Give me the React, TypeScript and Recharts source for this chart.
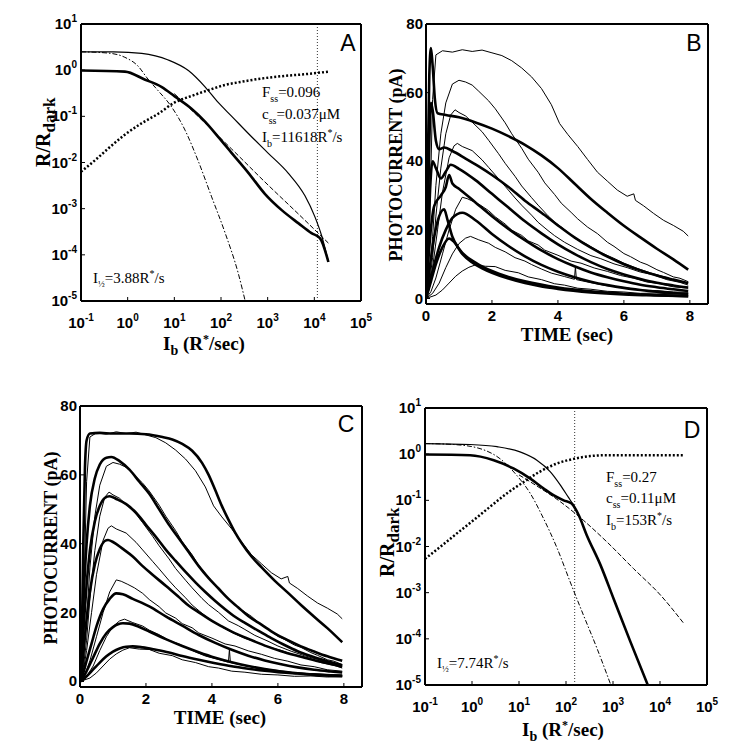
import { LineChart, Line, XAxis, YAxis, ReferenceLine } from 'recharts';

type Pt = [number, number];

// ---------- panels A & D: R/Rdark vs background intensity (log-log)
const IB_TICKS = [0.1, 1, 10, 100, 1000, 10000, 100000];
const RATIO_TICKS = [0.00001, 0.0001, 0.001, 0.01, 0.1, 1, 10];

const A_IB = 11618;
const aThin: Pt[] = [[0.1, 2.5], [0.5, 2.48], [2, 2.3], [7.4, 1.66], [20, 0.98], [46, 0.43], [87, 0.2], [170, 0.1], [390, 0.042], [1020, 0.016], [2750, 0.0059], [6300, 0.0019], [10200, 6.8e-4], [14500, 2.5e-4], [20000, 7e-5]];
const aThick: Pt[] = [[0.1, 0.98], [0.87, 0.93], [2.3, 0.63], [5.4, 0.43], [10.2, 0.27], [23, 0.148], [46, 0.076], [87, 0.036], [170, 0.016], [390, 0.0059], [870, 0.0021], [2000, 9.3e-4], [4600, 4.8e-4], [8700, 2.95e-4], [13200, 2.3e-4], [20000, 7e-5]];
const aSteep: Pt[] = [[0.1, 2.5], [0.39, 2.34], [0.87, 1.9], [1.7, 1.2], [2.6, 0.68], [4.6, 0.35], [8.1, 0.178], [17, 0.05], [32, 0.0112], [63, 0.0018], [123, 2.95e-4], [234, 4e-5], [330, 1e-5]];
const aShallow: Pt[] = [[10, 0.31], [39, 0.083], [170, 0.0195], [870, 0.0038], [4600, 7.6e-4], [20000, 1.8e-4]];
const aFrac: Pt[] = [[0.1, 0.0063], [0.2, 0.0112], [0.39, 0.0204], [0.87, 0.04], [2, 0.071], [4.6, 0.115], [10.2, 0.2], [23, 0.275], [54, 0.37], [123, 0.48], [275, 0.56], [740, 0.66], [2000, 0.74], [7400, 0.83], [20000, 0.93]];

const D_IB = 153;
const dThin: Pt[] = [[0.1, 1.7], [0.91, 1.62], [3.4, 1.45], [10.5, 1.12], [24, 0.74], [46, 0.42], [76, 0.214], [112, 0.117], [145, 0.078], [186, 0.048]];
const dThick: Pt[] = [[0.1, 0.98], [0.91, 0.95], [2.9, 0.74], [7.6, 0.49], [17.4, 0.295], [33, 0.182], [54, 0.129], [89, 0.1], [132, 0.085], [186, 0.048], [275, 0.0178], [540, 0.004], [1020, 7.6e-4], [2340, 8.7e-5], [5500, 1e-5]];
const dSteep: Pt[] = [[0.1, 1.7], [0.4, 1.62], [1.48, 1.32], [4, 0.79], [8.9, 0.35], [17.4, 0.141], [33, 0.041], [65, 0.0091], [123, 0.0017], [234, 3.3e-4], [457, 6.2e-5], [900, 1e-5]];
const dShallow: Pt[] = [[10, 0.355], [20, 0.23], [76, 0.093], [234, 0.037], [740, 0.0126], [2750, 0.0033], [10200, 8.9e-4], [31600, 2.2e-4]];
const dFrac: Pt[] = [[0.1, 0.0054], [0.21, 0.0098], [0.47, 0.019], [1.07, 0.037], [2.4, 0.072], [5.5, 0.141], [12.6, 0.25], [28, 0.42], [65, 0.63], [145, 0.79], [330, 0.91], [740, 0.95], [31600, 0.95]];

// ---------- panels B & C: photocurrent (pA) vs time (sec)
const TIME_TICKS = [0, 2, 4, 6, 8];
const PA_TICKS = [0, 20, 40, 60, 80];

// recorded responses (same in B and C)
const rec1: Pt[] = [[0, 0], [0.1, 18], [0.2, 58], [0.3, 71], [0.5, 72.2], [0.8, 71.8], [1.1, 72.5], [1.4, 72], [1.7, 72.4], [2, 71.6], [2.3, 70.8], [2.6, 69.3], [2.9, 67.2], [3.2, 64.6], [3.5, 61.2], [3.8, 56.5], [4.05, 51], [4.3, 47.8], [4.6, 44.3], [4.9, 40.5], [5.2, 36.8], [5.5, 34.2], [5.8, 31.6], [6.1, 29.8], [6.3, 30.5], [6.35, 28.6], [6.6, 27], [6.9, 24.8], [7.2, 22.8], [7.5, 21.3], [7.8, 19.6], [7.95, 18.2]];
const rec2: Pt[] = [[0, 0], [0.1, 6], [0.2, 18], [0.3, 33], [0.45, 48], [0.6, 57], [0.8, 62.5], [1, 63.6], [1.2, 63.1], [1.4, 62.2], [1.6, 60.4], [1.9, 57.6], [2.1, 55.3], [2.4, 51.2], [2.6, 48], [2.9, 43.8], [3.1, 40.6], [3.4, 36.8], [3.6, 33.7], [3.9, 30.3], [4.1, 27.8], [4.4, 25.1], [4.6, 23.2], [4.9, 20.8], [5.2, 18.9], [5.5, 16.4], [5.7, 15.2], [6, 13.1], [6.2, 12.2], [6.5, 10.6], [6.7, 9.9], [7, 8.4], [7.2, 7.6], [7.5, 6.3], [7.7, 5.9], [7.95, 4.9]];
const rec3: Pt[] = [[0, 0], [0.1, 4], [0.2, 12], [0.3, 24], [0.45, 38], [0.6, 48], [0.75, 53.5], [0.88, 55], [1, 54.2], [1.2, 53.2], [1.4, 51.4], [1.7, 48.6], [1.9, 46.1], [2.2, 42.2], [2.4, 39.4], [2.7, 35.6], [2.9, 32.8], [3.2, 29.4], [3.4, 27.2], [3.7, 24.1], [3.9, 22.3], [4.2, 20.1], [4.5, 17.6], [4.8, 16.2], [5, 15.1], [5.3, 13.4], [5.7, 11.7], [6, 10.3], [6.4, 8.8], [6.8, 7.5], [7.2, 6.4], [7.6, 5.2], [7.95, 4.5]];
const rec4: Pt[] = [[0, 0], [0.1, 3], [0.2, 9], [0.35, 20], [0.5, 31], [0.7, 41], [0.85, 44.5], [0.95, 45.2], [1.1, 44.3], [1.4, 43.1], [1.7, 40.4], [1.9, 38.2], [2.2, 34.9], [2.4, 32.7], [2.7, 29.3], [2.9, 27.2], [3.2, 24.3], [3.4, 22.2], [3.7, 19.8], [3.9, 18.3], [4.2, 16.4], [4.6, 14.3], [5, 12.5], [5.3, 11.6], [5.7, 10.1], [6.1, 9], [6.5, 7.7], [6.9, 6.9], [7.3, 5.5], [7.7, 4.7], [7.95, 3.9]];
const rec5: Pt[] = [[0, 0], [0.15, 2], [0.3, 6], [0.5, 13], [0.7, 20], [0.9, 26], [1.1, 29.5], [1.25, 29.1], [1.45, 28.2], [1.65, 27.2], [1.9, 25.6], [2.1, 23.8], [2.4, 21.7], [2.6, 19.9], [2.9, 18.4], [3.1, 16.8], [3.4, 15.6], [3.6, 14.1], [4, 12.6], [4.4, 10.9], [4.7, 10.3], [5.1, 8.9], [5.5, 7.9], [5.9, 6.7], [6.3, 5.9], [6.7, 4.8], [7.1, 4.3], [7.5, 3.4], [7.95, 3]];
const rec6: Pt[] = [[0, 0], [0.2, 1.5], [0.4, 4.5], [0.6, 9], [0.8, 13], [1, 16], [1.2, 17.6], [1.35, 18.1], [1.6, 17.1], [1.9, 16.1], [2.1, 14.9], [2.4, 13.6], [2.7, 11.9], [3, 10.9], [3.2, 9.9], [3.5, 8.6], [3.8, 7.4], [4.2, 6.4], [4.5, 5.6], [4.53, 9.3], [4.56, 5.5], [5, 4.6], [5.5, 3.7], [6, 3.2], [6.5, 2.5], [7, 2.3], [7.5, 1.9], [7.95, 1.8]];
const rec7: Pt[] = [[0, 0], [0.3, 1], [0.5, 2.5], [0.7, 4.5], [0.9, 6.5], [1.1, 8], [1.3, 9.1], [1.5, 9.8], [1.8, 9.4], [2.1, 9.3], [2.4, 8.2], [2.8, 7.5], [3.1, 6.3], [3.5, 5.5], [3.9, 4.3], [4.2, 3.9], [4.6, 3], [5, 2.7], [5.5, 2.1], [6, 1.9], [6.5, 1.5], [7, 1.6], [7.5, 1.3], [7.95, 1.4]];

// model fits, panel B
const fitB1: Pt[] = [[0, 0], [0.05, 35], [0.1, 65], [0.15, 73], [0.2, 68], [0.27, 58], [0.35, 54], [0.6, 53.5], [1, 52.8], [1.5, 51.3], [2, 49.5], [2.5, 47.3], [3, 44.8], [3.5, 41.7], [4, 38], [4.5, 33.5], [5, 29], [5.5, 25], [6, 21.2], [6.5, 17.8], [7, 14.5], [7.5, 11.4], [7.95, 8.4]];
const fitB2: Pt[] = [[0, 0], [0.05, 20], [0.1, 45], [0.15, 57], [0.2, 55], [0.3, 46], [0.4, 43.5], [0.55, 44], [0.8, 43], [1.2, 40.8], [1.6, 38.5], [2, 36], [2.5, 32.5], [3, 28.5], [3.5, 25], [4, 21.3], [4.5, 17.8], [5, 14.8], [5.5, 12.2], [6, 10], [6.5, 8.2], [7, 6.7], [7.5, 5.5], [7.95, 4.5]];
const fitB3: Pt[] = [[0, 0], [0.05, 10], [0.1, 26], [0.2, 40], [0.3, 38], [0.45, 35], [0.6, 37], [0.75, 39], [1, 37.8], [1.5, 34.5], [2, 30.5], [2.5, 26.5], [3, 22.5], [3.5, 19], [4, 15.8], [4.5, 13], [5, 10.6], [5.5, 8.6], [6, 7], [6.5, 5.7], [7, 4.6], [7.5, 3.8], [7.95, 3.2]];
const fitB4: Pt[] = [[0, 0], [0.1, 15], [0.25, 27], [0.45, 30], [0.6, 32.5], [0.7, 36], [0.8, 33.5], [1, 32], [1.5, 28], [2, 24], [2.5, 20.3], [3, 17], [3.5, 14], [4, 11.5], [4.5, 9.4], [5, 7.6], [5.5, 6.2], [6, 5], [6.5, 4], [7, 3.3], [7.5, 2.7], [7.95, 2.2]];
const fitB5: Pt[] = [[0, 0], [0.2, 8], [0.4, 15], [0.6, 20], [0.8, 23.5], [1.1, 25], [1.5, 22.8], [2, 18.8], [2.5, 15.3], [3, 12.3], [3.5, 9.8], [4, 7.8], [4.5, 6.2], [5, 4.9], [5.5, 3.9], [6, 3.1], [6.5, 2.5], [7, 2], [7.5, 1.6], [7.95, 1.3]];
const fitB6: Pt[] = [[0, 0], [0.1, 8], [0.25, 18], [0.4, 24], [0.55, 26], [0.65, 23], [0.8, 18], [1, 14.5], [1.5, 10.5], [2, 8], [2.5, 6.3], [3, 5], [4, 3.2], [5, 2.1], [6, 1.4], [7, 1], [7.95, 0.7]];
const fitB7: Pt[] = [[0, 0], [0.15, 5], [0.3, 10], [0.5, 15], [0.7, 17.5], [0.85, 16.5], [1.1, 13], [1.4, 10.5], [1.7, 8.8], [2, 7.5], [2.5, 5.8], [3, 4.5], [3.5, 3.5], [4, 2.8], [5, 1.8], [6, 1.2], [7, 0.9], [7.95, 0.7]];

// model fits, panel C
const fitC1: Pt[] = [[0, 0], [0.05, 10], [0.1, 40], [0.15, 62], [0.2, 70], [0.3, 72], [0.6, 72.2], [1, 72], [1.5, 72], [2, 71.8], [2.5, 71], [2.8, 70.3], [3.1, 69], [3.4, 67], [3.7, 63.5], [3.9, 60], [4.1, 55.6], [4.3, 51], [4.5, 47], [4.7, 43.3], [4.9, 40.2], [5.2, 36.3], [5.5, 33.2], [5.9, 29.3], [6.3, 25.8], [6.7, 22.2], [7.1, 18.8], [7.5, 15.5], [7.95, 11.4]];
const fitC2: Pt[] = [[0, 0], [0.05, 8], [0.1, 22], [0.2, 40], [0.3, 51], [0.45, 59], [0.6, 63], [0.8, 65], [0.95, 65.2], [1.2, 64], [1.5, 61.5], [1.8, 58], [2.1, 54.5], [2.4, 50], [2.7, 45.5], [3, 41.5], [3.3, 37.5], [3.6, 33.5], [3.9, 30], [4.2, 27], [4.5, 24], [4.8, 21.5], [5.1, 19], [5.5, 16.5], [5.9, 14], [6.3, 12], [6.7, 10.2], [7.1, 8.7], [7.5, 7.3], [7.95, 6]];
const fitC3: Pt[] = [[0, 0], [0.05, 5], [0.1, 14], [0.2, 28], [0.3, 38], [0.45, 46.5], [0.6, 51], [0.75, 53.3], [0.9, 53.8], [1.1, 53], [1.4, 51.5], [1.7, 49], [2, 45.5], [2.3, 42], [2.6, 38.3], [2.9, 35], [3.2, 31.8], [3.5, 28.8], [3.8, 26], [4.1, 23.4], [4.4, 21], [4.7, 18.8], [5, 17], [5.4, 14.8], [5.8, 12.6], [6.2, 10.6], [6.6, 8.8], [7, 7.4], [7.5, 5.9], [7.95, 4.7]];
const fitC4: Pt[] = [[0, 0], [0.05, 3], [0.1, 8], [0.2, 18], [0.3, 26], [0.45, 34], [0.6, 38.5], [0.75, 40.8], [0.85, 41.1], [1, 40.5], [1.3, 38.5], [1.6, 36.3], [1.9, 33.5], [2.2, 31], [2.6, 27.8], [3, 24.5], [3.3, 22], [3.65, 19.8], [4, 17.6], [4.3, 16], [4.66, 14.2], [5, 12.8], [5.3, 11.6], [5.67, 10.2], [6.1, 8.8], [6.5, 7.7], [6.9, 6.7], [7.4, 5.5], [7.95, 4.3]];
const fitC5: Pt[] = [[0, 0], [0.1, 2.5], [0.2, 6], [0.35, 11], [0.5, 16], [0.7, 21], [0.9, 24], [1.1, 25.6], [1.3, 25.3], [1.6, 24], [2.1, 21.8], [2.6, 18.9], [3.1, 16.2], [3.6, 13.5], [4.1, 11.2], [4.6, 9.2], [5.1, 7.5], [5.6, 6.1], [6.1, 5], [6.6, 4.1], [7.1, 3.4], [7.6, 2.9], [7.95, 2.6]];
const fitC6: Pt[] = [[0, 0], [0.1, 1.2], [0.2, 3], [0.4, 7], [0.6, 11], [0.8, 14], [1, 15.8], [1.3, 16.9], [1.5, 16.8], [1.8, 15.8], [2.1, 14.5], [2.6, 12.3], [3.1, 10.3], [3.6, 8.5], [4.1, 6.9], [4.6, 5.6], [5.1, 4.5], [5.6, 3.6], [6.1, 2.9], [6.6, 2.4], [7.1, 2], [7.6, 1.7], [7.95, 1.5]];
const fitC7: Pt[] = [[0, 0], [0.1, 0.6], [0.2, 1.5], [0.4, 3.5], [0.6, 5.5], [0.8, 7.3], [1, 8.7], [1.2, 9.6], [1.4, 10.1], [1.6, 10.2], [1.9, 9.9], [2.3, 9.2], [2.7, 8.4], [3.1, 7.4], [3.6, 6.3], [4.1, 5.3], [4.6, 4.4], [5.1, 3.7], [5.6, 3.1], [6.1, 2.6], [6.6, 2.3], [7.1, 2], [7.6, 1.8], [7.95, 1.7]];

const RECORDED = [rec1, rec2, rec3, rec4, rec5, rec6, rec7];
const FITS_B = [fitB1, fitB2, fitB3, fitB4, fitB5, fitB6, fitB7];
const FITS_C = [fitC1, fitC2, fitC3, fitC4, fitC5, fitC6, fitC7];

const SANS = '"Liberation Sans", Arial, Helvetica, sans-serif';
const SERIF = '"Liberation Serif", "Times New Roman", serif';

interface Box { left: number; top: number; width: number; height: number }
interface Plot { l: number; t: number; r: number; b: number }
interface Curve { pts: Pt[]; w: number; dash?: string; smooth?: boolean }

const rows = (pts: Pt[]) => pts.map(([x, y]) => ({ x, y }));
const expOf = (v: number) => Math.round(Math.log10(v));

interface PanelProps {
  box: Box;
  plot: Plot;
  log: boolean;
  xDomain: [number, number];
  yDomain: [number, number];
  xTicks: number[];
  yTicks: number[];
  curves: Curve[];
  mark?: number;
}

function Panel({ box, plot, log, xDomain, yDomain, xTicks, yTicks, curves, mark }: PanelProps) {
  const ox = box.left;
  const oy = box.top;
  const margin = {
    left: plot.l - ox - 1,
    top: plot.t - oy - 1,
    right: ox + box.width - plot.r - 1,
    bottom: oy + box.height - plot.b - 1,
  };
  const scale = log ? 'log' : 'linear';
  const frame = { stroke: '#000', strokeWidth: 2 };
  const tickFont = { fontFamily: SANS, fontWeight: 700, fontSize: 15, fill: '#000' };

  const bottomTick = (p: any) => {
    const v = p.payload.value;
    if (log) {
      return (
        <text x={p.x} y={plot.b - oy + 27} textAnchor="middle" style={tickFont}>
          10<tspan dy={-7} fontSize={10}>{expOf(v)}</tspan>
        </text>
      );
    }
    return (
      <text x={p.x} y={plot.b - oy + 17} textAnchor="middle" style={tickFont}>
        {v}
      </text>
    );
  };
  const leftTick = (p: any) => {
    const v = p.payload.value;
    if (log) {
      return (
        <text x={plot.l - ox - 4} y={p.y + 5} textAnchor="end" style={tickFont}>
          10<tspan dy={-7} fontSize={10}>{expOf(v)}</tspan>
        </text>
      );
    }
    return (
      <text x={plot.l - ox - 3} y={p.y + 5} textAnchor="end" style={tickFont}>
        {v}
      </text>
    );
  };

  return (
    <div style={{ position: 'absolute', left: ox, top: oy }}>
      <LineChart width={box.width} height={box.height} margin={margin}>
        <XAxis
          dataKey="x"
          type="number"
          scale={scale}
          domain={xDomain}
          ticks={xTicks}
          interval={0}
          allowDataOverflow
          height={1}
          tickSize={-4}
          tickLine={{ stroke: '#000' }}
          axisLine={frame}
          tick={bottomTick}
        />
        <XAxis
          xAxisId="top"
          orientation="top"
          dataKey="x"
          type="number"
          scale={scale}
          domain={xDomain}
          ticks={xTicks}
          interval={0}
          allowDataOverflow
          height={1}
          tickSize={-4}
          tickLine={{ stroke: '#000' }}
          axisLine={frame}
          tick={false}
        />
        <YAxis
          type="number"
          scale={scale}
          domain={yDomain}
          ticks={yTicks}
          interval={0}
          allowDataOverflow
          width={1}
          tickSize={-4}
          tickLine={{ stroke: '#000' }}
          axisLine={frame}
          tick={leftTick}
        />
        <YAxis
          yAxisId="right"
          orientation="right"
          type="number"
          scale={scale}
          domain={yDomain}
          ticks={yTicks}
          interval={0}
          allowDataOverflow
          width={1}
          tickSize={-4}
          tickLine={{ stroke: '#000' }}
          axisLine={frame}
          tick={false}
        />
        {mark !== undefined && (
          <ReferenceLine x={mark} stroke="#333" strokeWidth={1} strokeDasharray="1 2" />
        )}
        {curves.map((c, i) => (
          <Line
            key={i}
            data={rows(c.pts)}
            dataKey="y"
            type={c.smooth ? 'monotone' : 'linear'}
            stroke="#000"
            strokeWidth={c.w}
            strokeDasharray={c.dash}
            dot={false}
            activeDot={false}
            isAnimationActive={false}
          />
        ))}
      </LineChart>
    </div>
  );
}

const logCurves = (thin: Pt[], thick: Pt[], steep: Pt[], shallow: Pt[], frac: Pt[]): Curve[] => [
  { pts: steep, w: 1, dash: '5 2 1.5 2', smooth: true },
  { pts: shallow, w: 1, dash: '5 2', smooth: true },
  { pts: thin, w: 1.2, smooth: true },
  { pts: frac, w: 2.5, dash: '2 2', smooth: true },
  { pts: thick, w: 2.6, smooth: true },
];

const timeCurves = (fits: Pt[][]): Curve[] => [
  ...RECORDED.map((pts) => ({ pts, w: 1 })),
  ...fits.map((pts) => ({ pts, w: 2.6, smooth: true })),
];

export default function App() {
  const serifBold = { fontFamily: SERIF, fontWeight: 700, fill: '#000' };
  const serif = { fontFamily: SERIF, fill: '#000' };
  const letter = { fontFamily: SANS, fontSize: 23, fill: '#000' };

  return (
    <div style={{ position: 'absolute', left: 0, top: 0, width: 755, height: 753, background: '#fff' }}>
      <Panel
        box={{ left: 0, top: 0, width: 378, height: 372 }}
        plot={{ l: 81, t: 24, r: 361, b: 301 }}
        log
        xDomain={[0.1, 100000]}
        yDomain={[0.00001, 10]}
        xTicks={IB_TICKS}
        yTicks={RATIO_TICKS}
        curves={logCurves(aThin, aThick, aSteep, aShallow, aFrac)}
        mark={A_IB}
      />
      <Panel
        box={{ left: 380, top: 0, width: 375, height: 372 }}
        plot={{ l: 426, t: 24, r: 708, b: 304 }}
        log={false}
        xDomain={[0, 8.55]}
        yDomain={[-1.6, 80]}
        xTicks={TIME_TICKS}
        yTicks={PA_TICKS}
        curves={timeCurves(FITS_B)}
      />
      <Panel
        box={{ left: 0, top: 378, width: 378, height: 375 }}
        plot={{ l: 80, t: 406, r: 362, b: 687 }}
        log={false}
        xDomain={[0, 8.55]}
        yDomain={[-1.6, 80]}
        xTicks={TIME_TICKS}
        yTicks={PA_TICKS}
        curves={timeCurves(FITS_C)}
      />
      <Panel
        box={{ left: 380, top: 378, width: 375, height: 375 }}
        plot={{ l: 425, t: 408, r: 707, b: 685 }}
        log
        xDomain={[0.1, 100000]}
        yDomain={[0.00001, 10]}
        xTicks={IB_TICKS}
        yTicks={RATIO_TICKS}
        curves={logCurves(dThin, dThick, dSteep, dShallow, dFrac)}
        mark={D_IB}
      />

      <svg
        width={755}
        height={753}
        style={{ position: 'absolute', left: 0, top: 0, pointerEvents: 'none' }}
      >
        {/* panel letters */}
        <text x={348} y={51} textAnchor="middle" style={letter}>A</text>
        <text x={694} y={51} textAnchor="middle" style={letter}>B</text>
        <text x={346} y={432} textAnchor="middle" style={letter}>C</text>
        <text x={692} y={438} textAnchor="middle" style={letter}>D</text>

        {/* panel A */}
        <text transform="translate(50,167) rotate(-90)" style={{ ...serifBold, fontSize: 20 }}>
          R/R<tspan dy={5} fontSize={17}>dark</tspan>
        </text>
        <text x={204} y={350} textAnchor="middle" style={{ ...serifBold, fontSize: 19 }}>
          I<tspan dy={5} fontSize={14}>b</tspan>
          <tspan dy={-5}>{' (R'}</tspan>
          <tspan dy={-7} fontSize={12}>*</tspan>
          <tspan dy={7}>/sec)</tspan>
        </text>
        <text x={262} y={97} style={{ ...serif, fontSize: 15 }}>
          F<tspan dy={5} fontSize={10}>ss</tspan><tspan dy={-5}>=0.096</tspan>
        </text>
        <text x={262} y={119} style={{ ...serif, fontSize: 15 }}>
          c<tspan dy={5} fontSize={10}>ss</tspan><tspan dy={-5}>=0.037μM</tspan>
        </text>
        <text x={262} y={142} style={{ ...serif, fontSize: 15 }}>
          I<tspan dy={5} fontSize={10}>b</tspan><tspan dy={-5}>=11618R</tspan>
          <tspan dy={-6} fontSize={10}>*</tspan><tspan dy={6}>/s</tspan>
        </text>
        <text x={93} y={283} style={{ ...serif, fontSize: 15 }}>
          I<tspan dy={4} fontSize={9}>½</tspan><tspan dy={-4}>=3.88R</tspan>
          <tspan dy={-6} fontSize={10}>*</tspan><tspan dy={6}>/s</tspan>
        </text>

        {/* panel B */}
        <text transform="translate(402,165) rotate(-90)" textAnchor="middle" style={{ ...serifBold, fontSize: 18 }}>
          PHOTOCURRENT (pA)
        </text>
        <text x={567} y={341} textAnchor="middle" style={{ ...serifBold, fontSize: 19 }}>
          TIME (sec)
        </text>

        {/* panel C */}
        <text transform="translate(57,548) rotate(-90)" textAnchor="middle" style={{ ...serifBold, fontSize: 18 }}>
          PHOTOCURRENT (pA)
        </text>
        <text x={220} y={724} textAnchor="middle" style={{ ...serifBold, fontSize: 19 }}>
          TIME (sec)
        </text>

        {/* panel D */}
        <text transform="translate(394,577) rotate(-90)" style={{ ...serifBold, fontSize: 20 }}>
          R/R<tspan dy={5} fontSize={17}>dark</tspan>
        </text>
        <text x={563} y={736} textAnchor="middle" style={{ ...serifBold, fontSize: 19 }}>
          I<tspan dy={5} fontSize={14}>b</tspan>
          <tspan dy={-5}>{' (R'}</tspan>
          <tspan dy={-7} fontSize={12}>*</tspan>
          <tspan dy={7}>/sec)</tspan>
        </text>
        <text x={606} y={482} style={{ ...serif, fontSize: 15 }}>
          F<tspan dy={5} fontSize={10}>ss</tspan><tspan dy={-5}>=0.27</tspan>
        </text>
        <text x={606} y={503} style={{ ...serif, fontSize: 15 }}>
          c<tspan dy={5} fontSize={10}>ss</tspan><tspan dy={-5}>=0.11μM</tspan>
        </text>
        <text x={606} y={525} style={{ ...serif, fontSize: 15 }}>
          I<tspan dy={5} fontSize={10}>b</tspan><tspan dy={-5}>=153R</tspan>
          <tspan dy={-6} fontSize={10}>*</tspan><tspan dy={6}>/s</tspan>
        </text>
        <text x={437} y={668} style={{ ...serif, fontSize: 15 }}>
          I<tspan dy={4} fontSize={9}>½</tspan><tspan dy={-4}>=7.74R</tspan>
          <tspan dy={-6} fontSize={10}>*</tspan><tspan dy={6}>/s</tspan>
        </text>
      </svg>
    </div>
  );
}
